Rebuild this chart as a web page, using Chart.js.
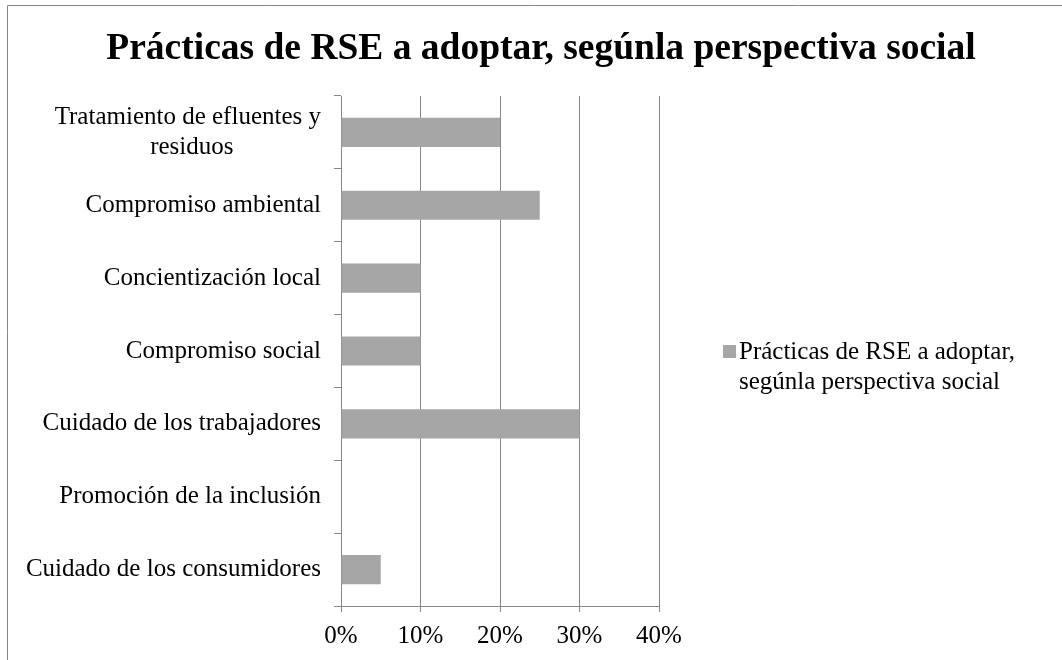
<!DOCTYPE html>
<html>
<head>
<meta charset="utf-8">
<script src="https://cdn.jsdelivr.net/npm/chart.js@4/dist/chart.umd.min.js"></script>
<style>
  html, body { margin: 0; padding: 0; background: #fff; }
  #wrap { width: 1062px; height: 660px; position: relative; }
</style>
</head>
<body>
<div id="wrap"><canvas id="chart" width="1062" height="660"></canvas></div>
<script>
// Data
const TITLE = "Prácticas de RSE a adoptar, segúnla perspectiva social"
const SERIES_NAME = "Prácticas de RSE a adoptar, segúnla perspectiva social"
const LEGEND_LINES = ["Prácticas de RSE a adoptar,", "segúnla perspectiva social"]
// second line of the first label is centred under the first in the original,
// so pad it with no-break spaces (labels are right-aligned by the axis)
const CATEGORIES = [
  ["Tratamiento de efluentes y", "residuos" + "\u00a0".repeat(14)],
  "Compromiso ambiental",
  "Concientización local",
  "Compromiso social",
  "Cuidado de los trabajadores",
  "Promoción de la inclusión",
  "Cuidado de los consumidores",
]
const VALUES = [20, 25, 10, 10, 30, 0, 5]   // percent
const X_TICKS = [0, 10, 20, 30, 40]

const FONT = "'Liberation Serif', 'Times New Roman', serif"
const BAR_COLOR = "#a6a6a6"
const LINE_COLOR = "#868686"

// Title, legend and outer frame
const decorations = {
  id: "decorations",
  beforeDraw(chart) {
    const ctx = chart.ctx
    ctx.save()
    ctx.strokeStyle = LINE_COLOR
    ctx.lineWidth = 1
    ctx.beginPath()
    ctx.moveTo(7.5, chart.height)
    ctx.lineTo(7.5, 5.5)
    ctx.lineTo(chart.width, 5.5)
    ctx.stroke()
    ctx.restore()
  },
  afterDraw(chart) {
    const ctx = chart.ctx
    ctx.save()
    ctx.fillStyle = "#000"
    ctx.font = "bold 37.5px " + FONT
    ctx.textAlign = "center"
    ctx.textBaseline = "middle"
    ctx.fillText(TITLE, 541, 49)

    const ds = chart.data.datasets[0]
    ctx.fillStyle = ds.backgroundColor
    ctx.fillRect(723, 345, 13, 13)
    ctx.fillStyle = "#000"
    ctx.font = "25px " + FONT
    ctx.textAlign = "left"
    LEGEND_LINES.forEach((line, i) => ctx.fillText(line, 739, 352 + i * 30))
    ctx.restore()
  },
}

new Chart(document.getElementById("chart"), {
  type: "bar",
  data: {
    labels: CATEGORIES,
    datasets: [{
      label: SERIES_NAME,
      data: VALUES,
      backgroundColor: BAR_COLOR,
      borderWidth: 0,
      categoryPercentage: 1,
      barPercentage: 0.4,
    }],
  },
  options: {
    indexAxis: "y",
    responsive: false,
    animation: false,
    layout: { padding: { top: 96, left: 0, right: 403, bottom: 0 } },
    plugins: {
      legend: { display: false },
      title: { display: false },
      tooltip: { enabled: false },
    },
    scales: {
      x: {
        min: 0,
        max: 40,
        afterBuildTicks: scale => { scale.ticks = X_TICKS.map(v => ({ value: v })) },
        afterFit: scale => { scale.height = 54 },
        ticks: {
          callback: v => v + "%",
          color: "#000",
          font: { family: FONT, size: 25 },
          padding: 9,
          maxRotation: 0,
        },
        grid: { color: LINE_COLOR, tickLength: 6, drawTicks: true },
        border: { display: true, color: LINE_COLOR },
      },
      y: {
        afterFit: scale => { scale.width = 341 },
        ticks: {
          color: "#000",
          font: { family: FONT, size: 25, lineHeight: 1.18 },
          padding: 13,
        },
        grid: { offset: true, drawOnChartArea: false, tickLength: 7, color: LINE_COLOR },
        border: { display: true, color: LINE_COLOR },
      },
    },
  },
  plugins: [decorations],
})
</script>
</body>
</html>
